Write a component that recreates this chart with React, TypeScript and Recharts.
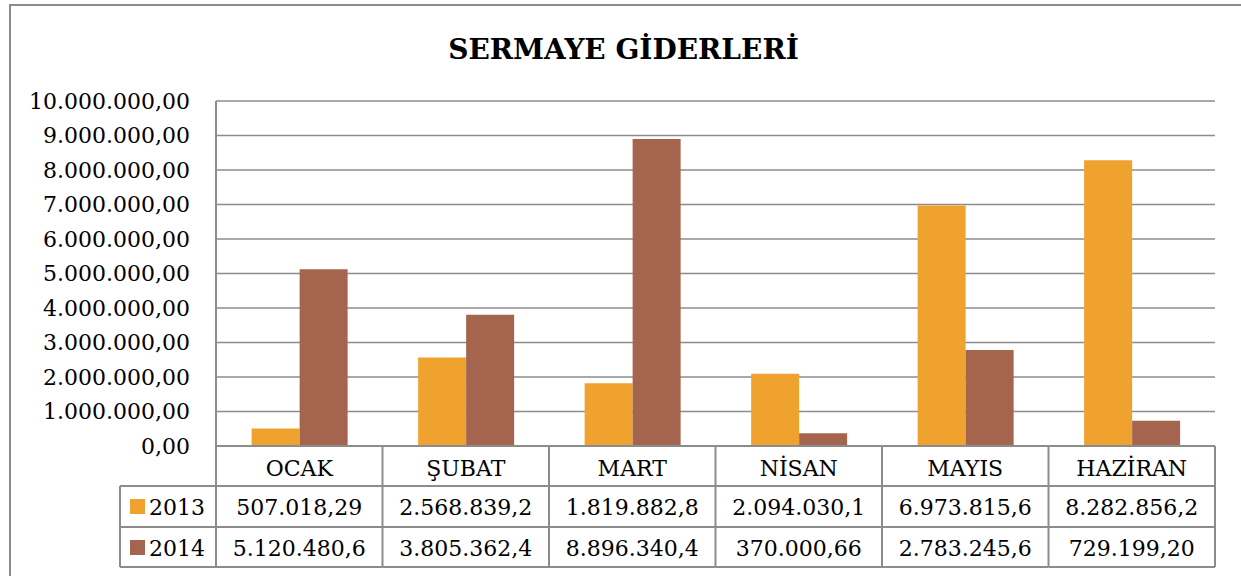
import { BarChart, Bar, XAxis, YAxis, CartesianGrid } from 'recharts'

const months = ['OCAK', 'ŞUBAT', 'MART', 'NİSAN', 'MAYIS', 'HAZİRAN']
const values2013 = [507018.29, 2568839.2, 1819882.8, 2094030.1, 6973815.6, 8282856.2]
const values2014 = [5120480.6, 3805362.4, 8896340.4, 370000.66, 2783245.6, 729199.2]
const seriesNames = ['2013', '2014']
const yTicks = [0, 1000000, 2000000, 3000000, 4000000, 5000000, 6000000, 7000000, 8000000, 9000000, 10000000]

const COLORS = ['#F0A22E', '#A5644E']
const LINE = '#8c8c8c'
const FONT = '"DejaVu Serif", serif'

const data = months.map((m, i) => ({ month: m, y2013: values2013[i], y2014: values2014[i] }))
const rows = [values2013, values2014]

// turkish number format: 1.234.567,89
const fmt = (v: number) => {
  const [int, dec] = v.toFixed(2).split('.')
  return int.replace(/\B(?=(\d{3})+(?!\d))/g, '.') + ',' + dec
}
// excel cuts the cell text when the column is too narrow
const cellText = (v: number) => fmt(v).slice(0, 11)

const ROW_H = [40, 41, 40]
const LEGEND_W = 96

const TableTick = (props: any) => {
  const { x, y, payload, index, width, visibleTicksCount } = props
  const band = (width || 999) / (visibleTicksCount || months.length)
  const left = x - band / 2
  const right = x + band / 2
  const r1 = y + ROW_H[0]
  const r2 = r1 + ROW_H[1]
  const r3 = r2 + ROW_H[2]
  const legendLeft = left - LEGEND_W
  const line = { stroke: LINE, strokeWidth: 2 }

  return (
    <g>
      <line x1={right} x2={right} y1={y} y2={r3} {...line} />
      <line x1={left} x2={right} y1={r1} y2={r1} {...line} />
      <line x1={left} x2={right} y1={r2} y2={r2} {...line} />
      <line x1={left} x2={right} y1={r3} y2={r3} {...line} />
      <text x={x} y={y + 30} textAnchor="middle" fontSize={22} fontFamily={FONT} fill="#000">
        {payload.value}
      </text>
      {rows.map((vals, r) => (
        <text key={r} x={x} y={(r === 0 ? r1 : r2) + 29} textAnchor="middle" fontSize={22} fontFamily={FONT} fill="#000">
          {cellText(vals[index])}
        </text>
      ))}
      {index === 0 && (
        <g>
          <line x1={left} x2={left} y1={y} y2={r3} {...line} />
          <line x1={legendLeft} x2={legendLeft} y1={r1} y2={r3} {...line} />
          <line x1={legendLeft} x2={left} y1={r1} y2={r1} {...line} />
          <line x1={legendLeft} x2={left} y1={r2} y2={r2} {...line} />
          <line x1={legendLeft} x2={left} y1={r3} y2={r3} {...line} />
          {seriesNames.map((name, r) => {
            const top = r === 0 ? r1 : r2
            return (
              <g key={name}>
                <rect x={legendLeft + 10} y={top + 13} width={15} height={15} fill={COLORS[r]} />
                <text x={legendLeft + 29} y={top + 29} fontSize={22} fontFamily={FONT} fill="#000">
                  {name}
                </text>
              </g>
            )
          })}
        </g>
      )}
    </g>
  )
}

const App = () => {
  return (
    <div style={{ position: 'absolute', left: 0, top: 0, width: 1241, height: 576, overflow: 'hidden', background: '#fff' }}>
      <div
        style={{
          position: 'absolute',
          left: 9,
          top: 4,
          width: 1260,
          height: 600,
          border: `2px solid ${LINE}`,
          boxSizing: 'border-box',
        }}
      />
      <div
        style={{
          position: 'absolute',
          left: 3,
          top: 36,
          width: 1241,
          textAlign: 'center',
          fontFamily: FONT,
          fontWeight: 'bold',
          fontSize: 28,
          lineHeight: '28px',
          color: '#000',
        }}
      >
        SERMAYE GİDERLERİ
      </div>
      <div style={{ position: 'absolute', left: 0, top: 0 }}>
        <BarChart
          width={1241}
          height={576}
          data={data}
          margin={{ top: 101, right: 26, bottom: 0, left: 0 }}
          barCategoryGap="21.4%"
          barGap={0}
          style={{ fontFamily: FONT }}
        >
          <CartesianGrid vertical={false} stroke={LINE} strokeWidth={1.5} />
          <XAxis
            dataKey="month"
            height={130}
            interval={0}
            tickLine={false}
            tickSize={0}
            tickMargin={0}
            axisLine={{ stroke: LINE, strokeWidth: 2 }}
            tick={<TableTick />}
          />
          <YAxis
            width={216}
            domain={[0, 10000000]}
            ticks={yTicks}
            tickFormatter={fmt}
            tickLine={false}
            tickSize={0}
            tickMargin={26}
            axisLine={{ stroke: LINE, strokeWidth: 2 }}
            tick={{ fontSize: 22, fill: '#000', fontFamily: FONT }}
          />
          <Bar dataKey="y2013" name={seriesNames[0]} fill={COLORS[0]} isAnimationActive={false} />
          <Bar dataKey="y2014" name={seriesNames[1]} fill={COLORS[1]} isAnimationActive={false} />
        </BarChart>
      </div>
    </div>
  )
}

export default App
